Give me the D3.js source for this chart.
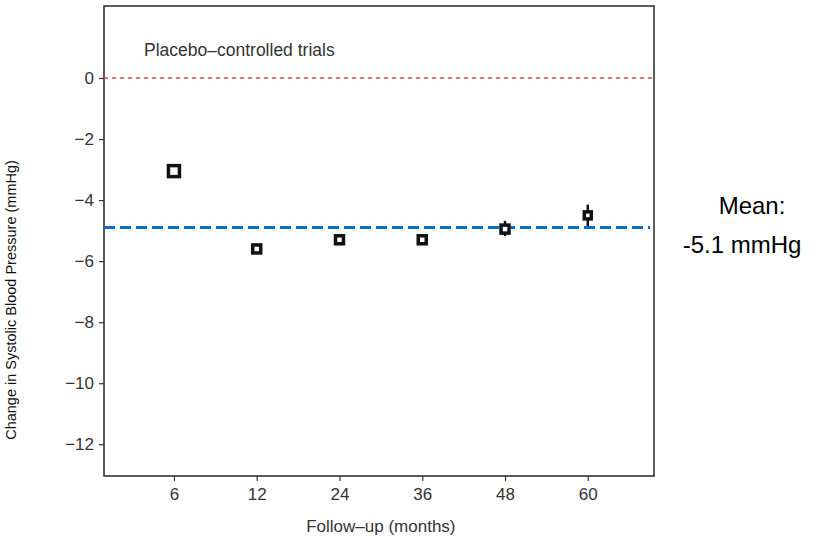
<!DOCTYPE html>
<html>
<head>
<meta charset="utf-8">
<script src="https://cdn.jsdelivr.net/npm/d3@7"></script>
<style>
  body { margin: 0; background: #fff; }
  svg { display: block; font-family: "Liberation Sans", Arial, sans-serif; }
</style>
</head>
<body>
<div id="chart"></div>
<script>
// follow-up categories and estimated change in SBP (mmHg)
const months = ['6', '12', '24', '36', '48', '60'];
const meanChange = [-3.05, -5.6, -5.3, -5.3, -4.95, -4.5];
const ciLow = [-3.25, -5.75, -5.45, -5.45, -5.18, -4.85];
const ciHigh = [-2.85, -5.45, -5.15, -5.15, -4.68, -4.15];
const boxWeight = [11, 8, 8, 8, 8, 7];
const yTicks = [0, -2, -4, -6, -8, -10, -12];
const pooledMean = -4.9;

const W = 819, H = 556;
const margin = { top: 6, right: 165, bottom: 80, left: 104 };
const width = W - margin.left - margin.right;
const height = H - margin.top - margin.bottom;

const svg = d3.select('#chart').append('svg')
  .attr('width', W)
  .attr('height', H);

const g = svg.append('g')
  .attr('transform', `translate(${margin.left},${margin.top})`);

// category positions 1..6 on a linear scale (R-style plot)
const x = d3.scaleLinear().domain([0.155, 6.8]).range([0, width]);
const y = d3.scaleLinear().domain([-13.04, 2.36]).range([height, 0]);

const fmt = d => (d < 0 ? '\u2212' + Math.abs(d) : String(d));

// Axes
const xAxis = g.append('g')
  .attr('transform', `translate(0,${height})`)
  .call(d3.axisBottom(x).tickValues(months.map((m, i) => i + 1))
    .tickFormat((d, i) => months[i]).tickSize(5).tickPadding(7));
const yAxis = g.append('g')
  .call(d3.axisLeft(y).tickValues(yTicks).tickFormat(fmt).tickSize(5).tickPadding(5));

[xAxis, yAxis].forEach(a => {
  a.attr('font-size', null).attr('font-family', null);
  a.select('.domain').remove();
  a.selectAll('line').attr('stroke', '#333').attr('stroke-width', 1.2);
  a.selectAll('text').attr('fill', '#333').attr('font-size', 17);
});

// plot frame
g.append('rect')
  .attr('width', width).attr('height', height)
  .attr('fill', 'none').attr('stroke', '#333').attr('stroke-width', 1.6);

// reference line at zero
g.append('line')
  .attr('x1', 0).attr('x2', width)
  .attr('y1', y(0)).attr('y2', y(0))
  .attr('stroke', '#e0404a').attr('stroke-width', 1.5)
  .attr('stroke-dasharray', '4,4');

// pooled mean line
g.append('line')
  .attr('x1', 0).attr('x2', width - 4)
  .attr('y1', y(pooledMean)).attr('y2', y(pooledMean))
  .attr('stroke', '#0a6fc4').attr('stroke-width', 3)
  .attr('stroke-dasharray', '11,5');

// confidence intervals
g.selectAll('.ci').data(months).enter().append('line')
  .attr('x1', (d, i) => x(i + 1)).attr('x2', (d, i) => x(i + 1))
  .attr('y1', (d, i) => y(ciLow[i])).attr('y2', (d, i) => y(ciHigh[i]))
  .attr('stroke', '#111').attr('stroke-width', 2.5);

// point estimates as heavy open squares
g.selectAll('.pt').data(months).enter().append('rect')
  .attr('x', (d, i) => x(i + 1) - boxWeight[i] / 2)
  .attr('y', (d, i) => y(meanChange[i]) - boxWeight[i] / 2)
  .attr('width', (d, i) => boxWeight[i])
  .attr('height', (d, i) => boxWeight[i])
  .attr('fill', '#fff').attr('stroke', '#111').attr('stroke-width', 3.5);

g.append('text')
  .attr('x', 40).attr('y', 50)
  .attr('fill', '#333').attr('font-size', 17.5)
  .text('Placebo\u2013controlled trials');

// axis titles
svg.append('text')
  .attr('x', margin.left + x(3.5)).attr('y', 532)
  .attr('text-anchor', 'middle').attr('fill', '#333').attr('font-size', 17)
  .text('Follow\u2013up (months)');

svg.append('text')
  .attr('transform', `translate(16,300) rotate(-90)`)
  .attr('text-anchor', 'middle').attr('fill', '#111').attr('font-size', 14.5)
  .text('Change in Systolic Blood Pressure (mmHg)');

// mean annotation
svg.append('text')
  .attr('x', 752).attr('y', 214)
  .attr('text-anchor', 'middle').attr('fill', '#000').attr('font-size', 24)
  .text('Mean:');
svg.append('text')
  .attr('x', 742).attr('y', 253)
  .attr('text-anchor', 'middle').attr('fill', '#000').attr('font-size', 24)
  .text('-5.1 mmHg');
</script>
</body>
</html>
